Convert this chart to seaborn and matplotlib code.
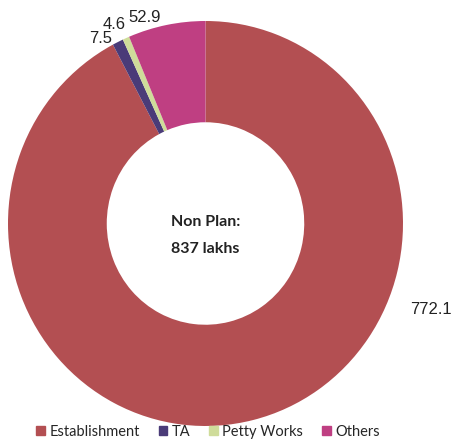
import matplotlib
matplotlib.use("Agg")
import matplotlib.pyplot as plt
import seaborn as sns

categories = ["Establishment", "TA", "Petty Works", "Others"]
values = [772.1, 7.5, 4.6, 52.9]
value_labels = ["772.1", "7.5", "4.6", "52.9"]
center_text = "Non Plan:\n837 lakhs"
colors = ["#b34f52", "#4a3b78", "#cfdc9a", "#bf3f82"]

sns.set_theme(style="white")
plt.rcParams["font.family"] = ["Liberation Sans", "DejaVu Sans"]

fig = plt.figure(figsize=(4.54, 4.41), dpi=100)
fig.patch.set_facecolor("white")
ax = fig.add_axes([8 / 454, 15 / 441, 395 / 454, 405 / 441])

wedges, _ = ax.pie(values, colors=colors, startangle=90, counterclock=False,
                   radius=1.0, wedgeprops=dict(width=0.5, linewidth=0))
ax.set_xlim(-1, 1)
ax.set_ylim(-1, 1)
ax.set_aspect("auto")
ax.axis("off")

# value labels (text positions relative to the ring)
label_pos = [(1.142, -0.427), (-0.529, 0.916), (-0.463, 0.985), (-0.306, 1.015)]
for txt, (x, y) in zip(value_labels, label_pos):
    ax.text(x, y, txt, ha="center", va="center", fontsize=12,
            color="#222222", clip_on=False)

ax.text(0, -0.06, center_text, ha="center", va="center", fontsize=11.5,
        fontweight="bold", family=["Lato", "DejaVu Sans"], color="#222222",
        linespacing=2.2)

handles = [plt.Rectangle((0, 0), 1, 1, color=c) for c in colors]
fig.legend(handles, categories, loc="center", ncol=4,
           bbox_to_anchor=(208 / 454, 9 / 441), frameon=False,
           prop={"family": ["Lato", "DejaVu Sans"], "size": 10.5},
           handlelength=0.6, handleheight=0.6, handletextpad=0.3,
           columnspacing=1.3, borderaxespad=0)

fig.savefig("out.png", dpi=100, facecolor="white")
